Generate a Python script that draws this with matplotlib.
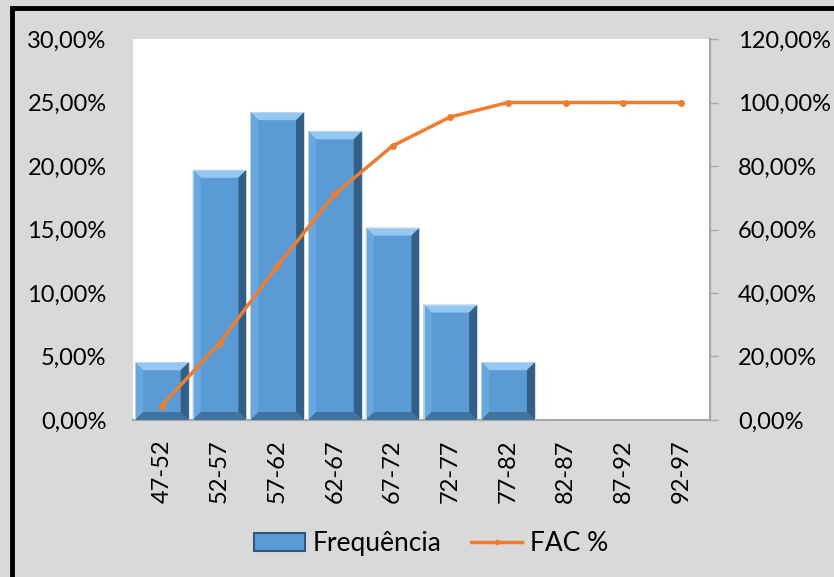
import numpy as np
import matplotlib
matplotlib.use("Agg")
import matplotlib.pyplot as plt
from matplotlib.patches import Polygon, Rectangle
from matplotlib.lines import Line2D
from matplotlib.ticker import FuncFormatter

plt.rcParams['font.family'] = ['Lato', 'DejaVu Sans']

# dados
classes = ["47-52", "52-57", "57-62", "62-67", "67-72", "72-77", "77-82", "82-87", "87-92", "92-97"]
frequencia = [4.55, 19.70, 24.24, 22.73, 15.15, 9.09, 4.55, 0, 0, 0]
fac = [4.55, 24.24, 48.48, 71.21, 86.36, 95.45, 100, 100, 100, 100]

BG = "#d9d9d9"
BLUE = "#5b9bd5"
ORANGE = "#ed7d31"
AXGRAY = "#a6a6a6"
FS = 17

def pct(v, pos):
    return f"{v:.2f}%".replace(".", ",")

fig = plt.figure(figsize=(8.34, 5.77), dpi=100, facecolor=BG)
ax = fig.add_axes([0.1595, 0.2721, 0.6918, 0.6603])
ax.set_facecolor("white")
x = np.arange(len(classes))
w = 0.93
ax.set_xlim(-0.5, len(classes) - 0.5)
ax.set_ylim(0, 30)

bars = ax.bar(x, frequencia, width=w, color=BLUE, zorder=2)

# bevel effect, size from pixels to data units
fig.canvas.draw()
p0 = ax.transData.inverted().transform((0, 0))
p1 = ax.transData.inverted().transform((8, 8))
bx, by = p1[0] - p0[0], p1[1] - p0[1]
for b in bars:
    h = b.get_height()
    if h <= 0:
        continue
    x0, x1 = b.get_x(), b.get_x() + b.get_width()
    dy = min(by, h / 3)
    faces = [
        ([(x0, h), (x1, h), (x1 - bx, h - dy), (x0 + bx, h - dy)], "#93c8f2"),
        ([(x0, 0), (x0, h), (x0 + bx, h - dy), (x0 + bx, dy)], "#68a8de"),
        ([(x1, 0), (x1, h), (x1 - bx, h - dy), (x1 - bx, dy)], "#335e86"),
        ([(x0, 0), (x1, 0), (x1 - bx, dy), (x0 + bx, dy)], "#40739f"),
    ]
    for pts, c in faces:
        ax.add_patch(Polygon(pts, closed=True, facecolor=c, edgecolor="none", zorder=3))
    ax.add_patch(Rectangle((x0, 0), x1 - x0, h, fill=False, edgecolor="#c8d6e4", lw=0.6, zorder=4))

ax.yaxis.set_major_formatter(FuncFormatter(pct))
ax.set_yticks(np.arange(0, 31, 5))
ax.tick_params(axis="y", length=0, pad=19, labelsize=FS)
ax.set_xticks(x)
ax.set_xticklabels(classes, rotation=90, fontsize=FS)
ax.tick_params(axis="x", length=0, pad=14)
for s in ["top", "left", "right"]:
    ax.spines[s].set_visible(False)
ax.spines["bottom"].set_color(AXGRAY)
ax.spines["bottom"].set_linewidth(1.5)

ax2 = ax.twinx()
ax2.plot(x, fac, color=ORANGE, lw=2.5, marker="o", markersize=4, zorder=5)
ax2.set_ylim(0, 120)
ax2.set_yticks(np.arange(0, 121, 20))
ax2.yaxis.set_major_formatter(FuncFormatter(pct))
ax2.tick_params(axis="y", length=6, width=1, color=AXGRAY, pad=14, labelsize=FS)
for s in ["top", "left", "bottom"]:
    ax2.spines[s].set_visible(False)
ax2.spines["right"].set_color(AXGRAY)
ax2.spines["right"].set_linewidth(1.5)

handles = [Rectangle((0, 0), 1, 1, facecolor=BLUE, edgecolor="#2f577c", lw=1.5),
           Line2D([0], [0], color=ORANGE, lw=2.5, marker="o", markersize=3)]
fig.legend(handles, ["Frequência", "FAC %"], loc="center", bbox_to_anchor=(0.517, 0.058),
           ncol=2, frameon=False, fontsize=19, handlelength=1.95, handleheight=0.7,
           columnspacing=1.1, handletextpad=0.3)

# black frame, only left/top visible
fig.patches.append(Rectangle((12 / 834, -0.1), 1.2, 1.1 - 8 / 577,
                             transform=fig.transFigure, fill=False, edgecolor="black", lw=3.5))

fig.savefig("out.png", dpi=100, facecolor=BG)
